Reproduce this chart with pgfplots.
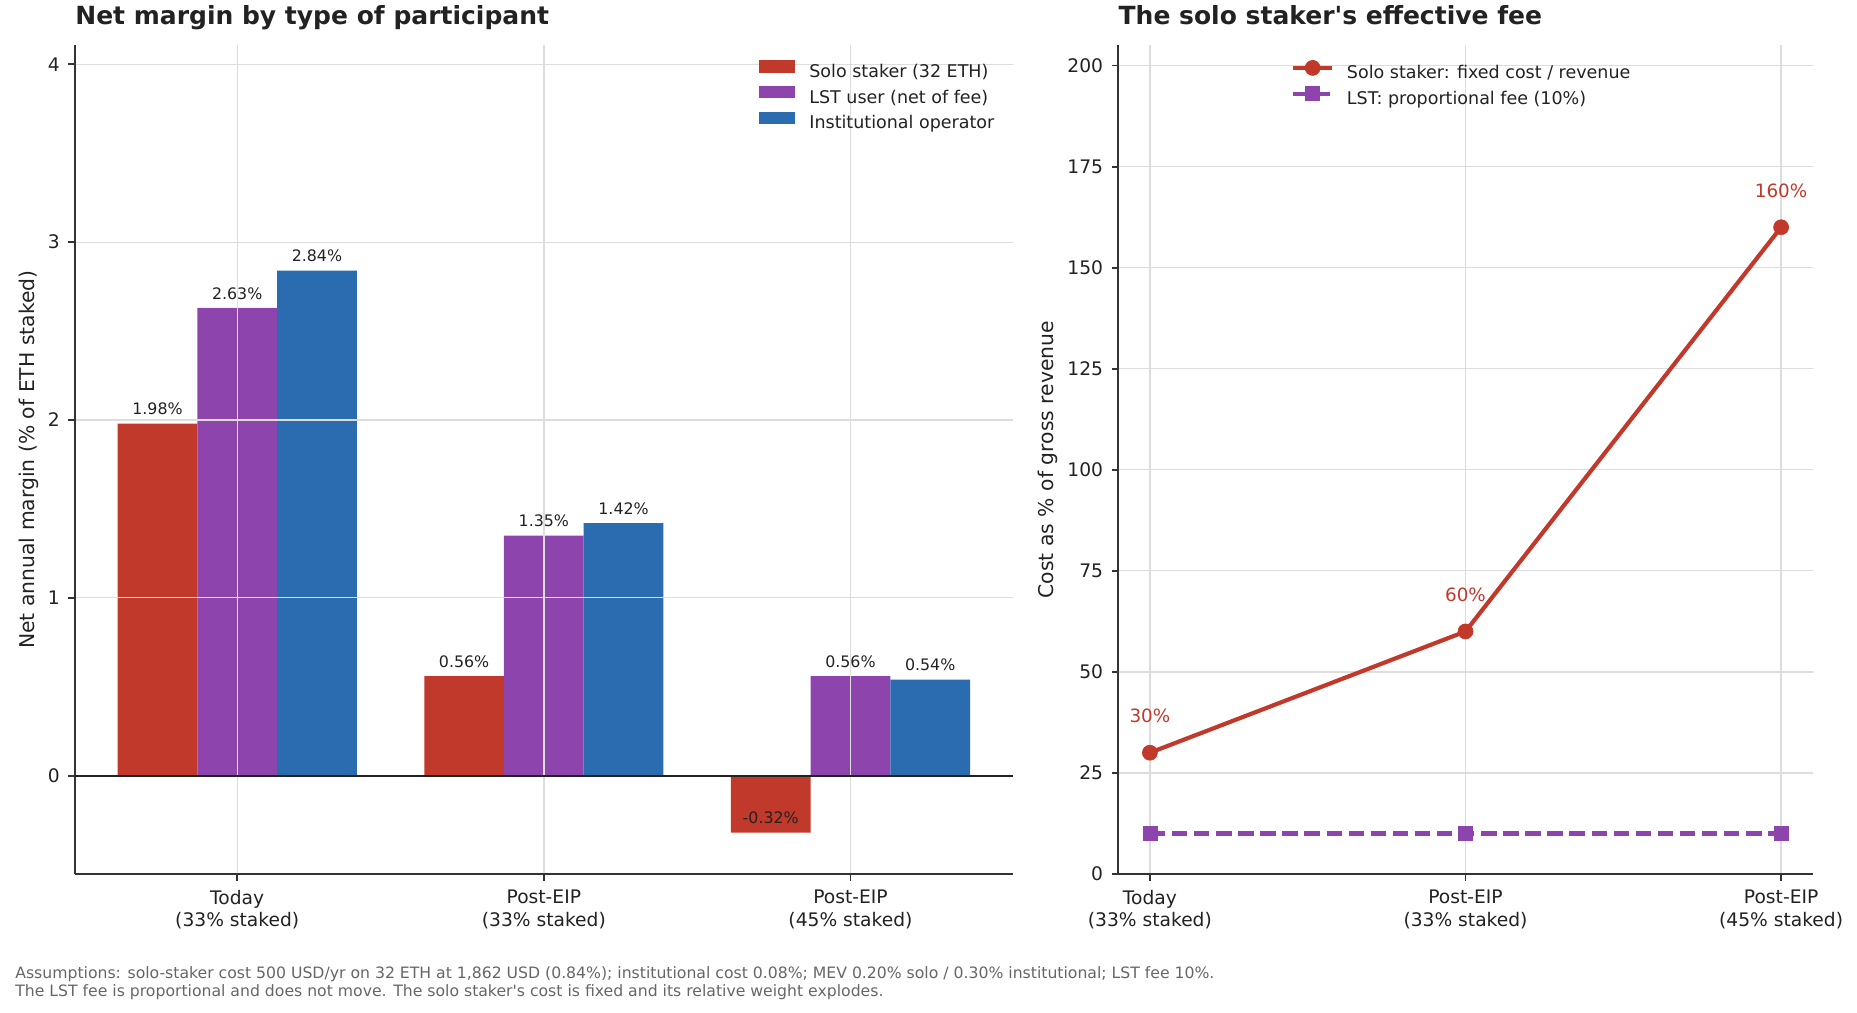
\documentclass[border=0pt]{standalone}
\usepackage{fontspec}
\setmainfont{DejaVu Sans}
\newfontfamily\dvs{DejaVu Sans}
\usepackage{pgfplots}
\pgfplotsset{compat=1.18}
\definecolor{cred}{RGB}{192,57,43}
\definecolor{cpurple}{RGB}{142,68,173}
\definecolor{cblue}{RGB}{43,108,176}
\definecolor{axisgray}{RGB}{51,51,51}
\definecolor{gridgray}{RGB}{221,221,221}
\definecolor{notegray}{RGB}{102,102,102}
\definecolor{txt}{RGB}{34,34,34}
\pgfplotsset{
 mystyle/.style={
  scale only axis, height=497.2bp,
  axis x line*=bottom, axis y line*=left,
  axis line style={draw=axisgray, line width=1.3bp},
  tick align=outside, major tick length=4bp,
  tick style={draw=axisgray, line width=1.1bp},
  grid=major, grid style={draw=gridgray, line width=0.8bp},
  xtick={0,1,2},
  xticklabels={{Today\\(33\% staked)},{Post-EIP\\(33\% staked)},{Post-EIP\\(45\% staked)}},
  xticklabel style={align=center, inner sep=0pt, yshift=-5.4bp, font=\fontsize{11.2bp}{13.6bp}\selectfont, text=txt},
  yticklabel style={inner sep=0pt, xshift=-5bp, font=\fontsize{11.2bp}{13.6bp}\selectfont, text=txt},
  /pgf/number format/assume math mode=true,
  ylabel style={font=\fontsize{12.2bp}{14bp}\selectfont, text=txt},
  title style={at={(0,1)}, anchor=base west, yshift=6.6bp, inner sep=0pt, font=\fontsize{15bp}{17bp}\selectfont\bfseries, text=txt},
  legend cell align=left,
 }
}
\begin{document}
\begin{tikzpicture}
\path[use as bounding box] (0,0) rectangle (1114.2bp,607.8bp);
% ---------------- left panel
\begin{axis}[mystyle,
 at={(45bp,83.4bp)}, anchor=south west, width=562.6bp,
 xmin=-0.529, xmax=2.529, ymin=-0.553, ymax=4.107,
 ytick={1,2,3,4},
 extra y ticks={0},
 extra y tick style={ymajorgrids=true, major grid style={draw=txt, line width=1.3bp}},
 axis on top,
 ylabel={Net annual margin (\% of ETH staked)},
 ylabel style={at={(axis description cs:-0.0497,0.5)}, anchor=center},
 title={Net margin by type of participant},
 legend style={draw=none, fill=none, at={(0.7295,0.9824)}, anchor=north west, inner sep=0pt, outer sep=0pt, row sep=2.7bp, font=\fontsize{10.5bp}{12bp}\selectfont, text=txt, nodes={inner sep=0pt, text height=8bp, text depth=2.5bp}},
 legend image code/.code={\fill[#1] (0bp,0bp) rectangle (21.6bp,7.6bp); \path (30.2bp,0bp);},
 every node near coord/.append style={anchor=south, font=\fontsize{9.5bp}{11bp}\selectfont, text=txt, inner sep=0pt, yshift=4.9bp},
]
\addplot[ybar, bar width=0.26, bar shift=0pt, fill=cred, draw=none, nodes near coords, point meta=explicit symbolic]
 coordinates {(-0.26,1.98)[1.98\%] (0.74,0.56)[0.56\%] (1.74,-0.32)[-0.32\%]};
\addlegendentry{Solo staker (32 ETH)}
\addplot[ybar, bar width=0.26, bar shift=0pt, fill=cpurple, draw=none, nodes near coords, point meta=explicit symbolic]
 coordinates {(0,2.63)[2.63\%] (1,1.35)[1.35\%] (2,0.56)[0.56\%]};
\addlegendentry{LST user (net of fee)}
\addplot[ybar, bar width=0.26, bar shift=0pt, fill=cblue, draw=none, nodes near coords, point meta=explicit symbolic]
 coordinates {(0.26,2.84)[2.84\%] (1.26,1.42)[1.42\%] (2.26,0.54)[0.54\%]};
\addlegendentry{Institutional operator}
\end{axis}
% ---------------- right panel
\begin{axis}[mystyle,
 at={(671bp,83.4bp)}, anchor=south west, width=416.6bp,
 xmin=-0.1, xmax=2.1, ymin=0, ymax=205,
 ytick={0,25,...,200},
 clip=false,
 ylabel={Cost as \% of gross revenue},
 ylabel style={at={(axis description cs:-0.1011,0.5)}, anchor=center},
 title={The solo staker{\dvs'}s effective fee},
 legend style={draw=none, fill=none, at={(0.2484,0.9818)}, anchor=north west, inner sep=0pt, outer sep=0pt, row sep=2.3bp, font=\fontsize{10.5bp}{12bp}\selectfont, text=txt, nodes={inner sep=0pt, text height=8bp, text depth=2.5bp}},
 legend image code/.code={\draw[mark repeat=2,mark phase=2,#1] plot coordinates {(0bp,3.8bp) (11.85bp,3.8bp) (23.7bp,3.8bp)}; \path (31.2bp,0bp);},
 every node near coord/.append style={anchor=south, font=\fontsize{11bp}{13bp}\selectfont, text=cred, inner sep=0pt, yshift=17.5bp},
]
\addplot[color=cred, line width=2.5bp, mark=*, mark size=4.5bp, mark options={solid, line width=0.4bp, fill=cred}, nodes near coords, point meta=explicit symbolic]
 coordinates {(0,30)[30\%] (1,60)[60\%] (2,160)[160\%]};
\addlegendentry{Solo staker: fixed cost / revenue}
\addplot[color=cpurple, line width=2.5bp, dash pattern=on 9.25bp off 4bp, mark=square*, mark size=4.2bp, mark options={solid, line width=0.4bp, fill=cpurple}]
 coordinates {(0,10) (1,10) (2,10)};
\addlegendentry{LST: proportional fee (10\%)}
\end{axis}
% ---------------- footnote
\node[anchor=base west, inner sep=0pt, font=\fontsize{9.4bp}{11bp}\selectfont, text=notegray] at (9bp,21bp) {Assumptions: solo-staker cost 500 USD/yr on 32 ETH at 1,862 USD (0.84\%); institutional cost 0.08\%; MEV 0.20\% solo / 0.30\% institutional; LST fee 10\%.};
\node[anchor=base west, inner sep=0pt, font=\fontsize{9.4bp}{11bp}\selectfont, text=notegray] at (9bp,10.2bp) {The LST fee is proportional and does not move. The solo staker{\dvs'}s cost is fixed and its relative weight explodes.};
\end{tikzpicture}
\end{document}
